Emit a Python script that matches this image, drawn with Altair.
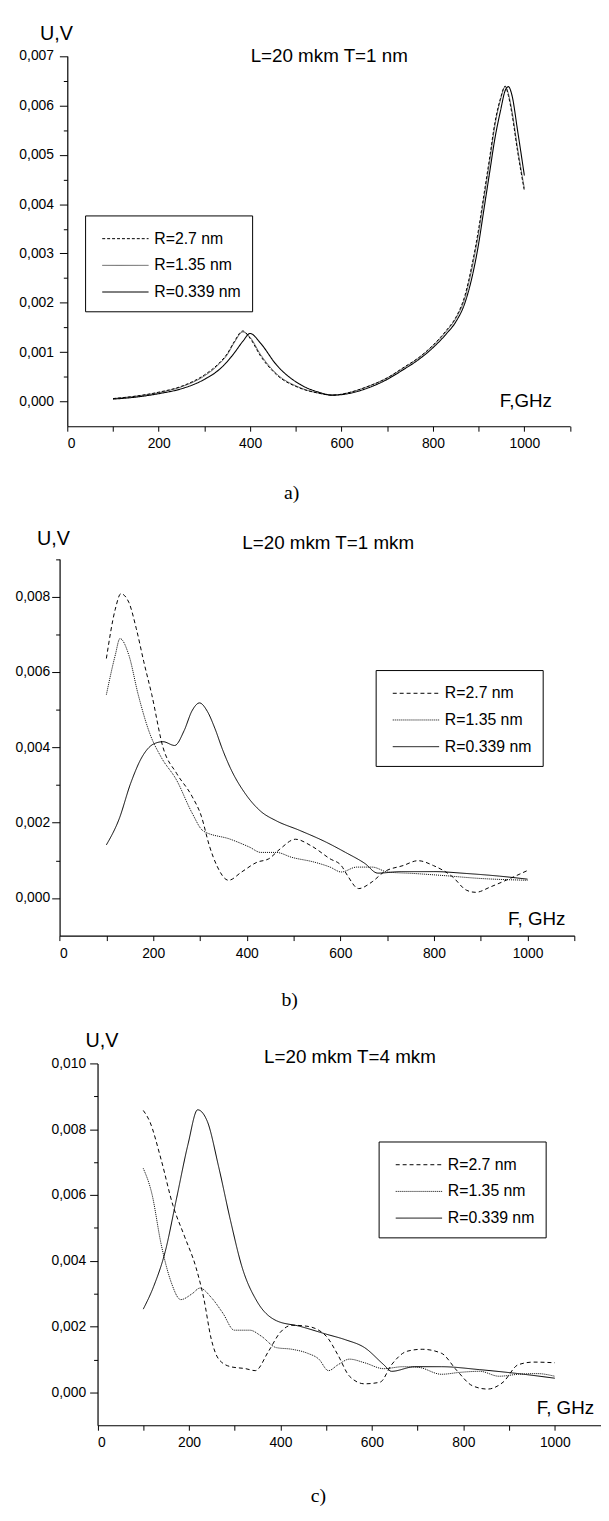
import altair as alt
import pandas as pd

LABELS = ["R=2.7 nm", "R=1.35 nm", "R=0.339 nm"]
FONT = "Liberation Sans"
SERIF = "Liberation Serif"

# ---------------- panel a (L=20 mkm T=1 nm), U in mV ----------------
A_F = [100, 150, 200, 250, 300, 330, 350, 365, 384, 400, 423, 457, 507, 550, 579,
       620, 650, 700, 734, 770, 801, 830, 851, 870, 885, 900, 910, 925, 935, 948,
       958, 965, 973, 985, 1000]
A_27 = [0.06, 0.11, 0.19, 0.31, 0.54, 0.76, 0.97, 1.21, 1.43, 1.28, 0.92, 0.55, 0.28, 0.17, 0.13,
        0.19, 0.28, 0.48, 0.68, 0.90, 1.15, 1.45, 1.72, 2.15, 2.75, 3.50, 4.10, 5.00, 5.62, 6.15,
        6.39, 6.20, 5.82, 5.08, 4.27]
A_135 = [0.06, 0.11, 0.18, 0.30, 0.52, 0.74, 0.95, 1.19, 1.41, 1.30, 0.95, 0.57, 0.29, 0.17, 0.13,
         0.19, 0.28, 0.48, 0.67, 0.89, 1.14, 1.43, 1.70, 2.10, 2.68, 3.42, 4.02, 4.92, 5.56, 6.12,
         6.38, 6.24, 5.88, 5.14, 4.32]
A_0339 = [0.05, 0.09, 0.16, 0.26, 0.45, 0.63, 0.81, 0.98, 1.22, 1.38, 1.18, 0.75, 0.36, 0.19, 0.13,
          0.17, 0.25, 0.45, 0.64, 0.86, 1.10, 1.38, 1.63, 2.00, 2.50, 3.20, 3.80, 4.70, 5.30, 5.90,
          6.30, 6.38, 6.20, 5.50, 4.58]

# ---------------- panel b (L=20 mkm T=1 mkm) ----------------
B27_F = [100, 119, 131, 148, 164, 180, 197, 221, 250, 283, 303, 320, 336, 361, 389,
         422, 447, 471, 504, 537, 578, 602, 615, 639, 668, 693, 734, 766, 799, 840,
         869, 889, 922, 963, 1000]
B27_U = [6.36, 7.67, 8.08, 7.85, 7.15, 6.27, 5.40, 4.00, 3.31, 2.70, 2.17, 1.39, 0.86, 0.47, 0.69,
         0.95, 1.04, 1.30, 1.56, 1.39, 1.04, 0.86, 0.60, 0.25, 0.43, 0.69, 0.86, 0.99, 0.86, 0.56,
         0.21, 0.15, 0.30, 0.52, 0.73]
B135_F = [100, 119, 129, 148, 168, 193, 217, 250, 283, 307, 365, 406, 430, 463, 496,
          545, 578, 602, 635, 668, 701, 758, 816, 897, 1000]
B135_U = [5.40, 6.45, 6.89, 6.45, 5.40, 4.36, 3.74, 3.13, 2.26, 1.78, 1.56, 1.35, 1.21, 1.21, 1.08,
          0.95, 0.82, 0.69, 0.82, 0.82, 0.69, 0.65, 0.60, 0.52, 0.47]
B0339_F = [100, 127, 152, 176, 201, 221, 246, 266, 283, 299, 316, 332, 348, 365, 398,
           430, 463, 512, 570, 611, 652, 680, 730, 800, 870, 940, 1000]
B0339_U = [1.41, 2.09, 3.05, 3.74, 4.09, 4.15, 4.05, 4.44, 4.97, 5.18, 4.95, 4.50, 3.95, 3.45, 2.75,
           2.30, 2.05, 1.80, 1.48, 1.21, 0.92, 0.66, 0.70, 0.70, 0.65, 0.58, 0.50]

# ---------------- panel c (L=20 mkm T=4 mkm) ----------------
C27_F = [100, 114, 139, 165, 190, 215, 232, 249, 265, 291, 324, 345, 374, 400, 425,
         458, 500, 526, 551, 584, 618, 643, 677, 710, 752, 786, 820, 853, 887, 920,
         954, 1000]
C27_U = [8.57, 8.24, 7.08, 5.68, 4.75, 3.81, 2.88, 1.60, 1.01, 0.78, 0.72, 0.66, 1.25, 1.83, 2.04,
         2.01, 1.71, 1.13, 0.49, 0.26, 0.31, 0.84, 1.25, 1.31, 1.19, 0.66, 0.20, 0.10, 0.31, 0.84,
         0.92, 0.90]
C135_F = [100, 119, 139, 161, 182, 207, 224, 249, 274, 299, 333, 358, 391, 425, 459,
          484, 505, 526, 551, 584, 626, 668, 702, 752, 794, 836, 878, 920, 962, 1000]
C135_U = [6.81, 6.03, 4.51, 3.35, 2.82, 3.00, 3.17, 2.88, 2.41, 1.89, 1.89, 1.71, 1.36, 1.31, 1.19,
          1.01, 0.66, 0.84, 1.01, 0.90, 0.72, 0.78, 0.76, 0.55, 0.61, 0.64, 0.49, 0.55, 0.57, 0.49]
C0339_F = [100, 123, 148, 173, 198, 219, 240, 265, 291, 316, 349, 391, 442, 500, 542,
           584, 626, 643, 694, 752, 836, 920, 1000]
C0339_U = [2.53, 3.23, 4.28, 5.91, 7.55, 8.59, 8.24, 6.85, 5.21, 3.81, 2.76, 2.18, 2.01, 1.77, 1.60,
           1.36, 0.84, 0.64, 0.78, 0.78, 0.69, 0.57, 0.43]

X_TICKS = [0, 100, 200, 300, 400, 500, 600, 700, 800, 900, 1000, 1100]
A_YTICKS = [0, 0.5, 1, 1.5, 2, 2.5, 3, 3.5, 4, 4.5, 5, 5.5, 6, 6.5, 7]
B_YTICKS = [0, 1, 2, 3, 4, 5, 6, 7, 8, 9]
C_YTICKS = [0, 1, 2, 3, 4, 5, 6, 7, 8, 9, 10]

W, H = 600, 1505


def frame(parts):
    rows = []
    for label, fs, us in parts:
        for f, u in zip(fs, us):
            rows.append({"F": f, "U": u, "R": label})
    return pd.DataFrame(rows)


def panel(df, xr, yr, ydom, yvals, majtest, ylabpad, dashes, widths, leg_x, leg_y):
    legend = alt.Legend(
        orient="none", legendX=leg_x, legendY=leg_y, title=None,
        strokeColor="black", fillColor="white", padding=11,
        symbolType="M-3,0H1", symbolSize=550, symbolStrokeColor="black",
        symbolOffset=29, labelOffset=5, rowPadding=6,
        labelFont=FONT, labelFontSize=16, labelColor="black", labelLimit=400,
    )
    x_axis = alt.Axis(
        orient="bottom", offset=yr[0] - H, values=X_TICKS, format="d",
        labelExpr="datum.value % 200 == 0 ? datum.label : ''",
        tickSize=5, labelPadding=6, title=None,
    )
    y_axis = alt.Axis(
        orient="left", offset=-xr[0], values=yvals,
        labelExpr=f"({majtest}) ? replace(format(datum.value / 1000, '.3f'), '.', ',') : ''",
        tickSize={"condition": {"test": majtest, "value": 8}, "value": 4},
        labelPadding=ylabpad, title=None,
    )
    return alt.Chart(df).mark_line(color="black", interpolate="monotone").encode(
        x=alt.X("F:Q", scale=alt.Scale(domain=[0, 1100], range=xr, nice=False, zero=False), axis=x_axis),
        y=alt.Y("U:Q", scale=alt.Scale(domain=ydom, range=yr, nice=False, zero=False), axis=y_axis),
        strokeDash=alt.StrokeDash("R:N", scale=alt.Scale(domain=LABELS, range=dashes), legend=legend),
        strokeWidth=alt.StrokeWidth("R:N", scale=alt.Scale(type="ordinal", domain=LABELS, range=widths),
                                    legend=legend),
    )


def label(t, x, y, size, font=FONT):
    return alt.Chart(pd.DataFrame({"t": [t]})).mark_text(
        font=font, fontSize=size, align="center", baseline="middle", color="black"
    ).encode(text="t:N", x=alt.value(x), y=alt.value(y))


df_a = frame([(LABELS[0], A_F, A_27), (LABELS[1], A_F, A_135), (LABELS[2], A_F, A_0339)])
df_b = frame([(LABELS[0], B27_F, B27_U), (LABELS[1], B135_F, B135_U), (LABELS[2], B0339_F, B0339_U)])
df_c = frame([(LABELS[0], C27_F, C27_U), (LABELS[1], C135_F, C135_U), (LABELS[2], C0339_F, C0339_U)])

pa = panel(df_a, [60, 568.7], [414.3, 39.7], [-0.5, 7], A_YTICKS, "datum.value % 1 == 0", 6,
           [[3, 2], [1, 0], [1, 0]], [1.0, 0.6, 1.1], 78, 201)
pb = panel(df_b, [52.2, 573], [929.7, 548.7], [-1, 9], B_YTICKS, "datum.value % 2 == 0", 2,
           [[4, 3], [1, 1], [1, 0]], [1.0, 1.0, 1.0], 372, 661)
pc = panel(df_c, [90.6, 599.5], [1425.1, 1059], [-1, 10], C_YTICKS, "datum.value % 2 == 0", 4,
           [[4, 3], [1, 1], [1, 0]], [1.0, 1.0, 1.0], 375, 1138)

texts = [
    label("U,V", 49, 17, 20), label("L=20 mkm T=1 nm", 325, 40, 19),
    label("F,GHz", 524, 389, 19), label("a)", 287, 482, 20, SERIF),
    label("U,V", 46, 528, 20), label("L=20 mkm T=1 mkm", 324, 532, 19),
    label("F, GHz", 535, 913, 19), label("b)", 285, 995, 20, SERIF),
    label("U,V", 95, 1036, 20), label("L=20 mkm T=4 mkm", 346, 1053, 19),
    label("F, GHz", 564, 1408, 19), label("c)", 314, 1497, 20, SERIF),
]

chart = alt.layer(pa, pb, pc, *texts).resolve_scale(
    x="independent", y="independent", strokeDash="independent", strokeWidth="independent"
).properties(
    width=W, height=H, padding=0, autosize=alt.AutoSizeParams(type="none")
).configure_view(stroke=None).configure_axis(
    labelFont=FONT, labelFontSize=14, labelColor="black", domainColor="black",
    tickColor="black", domainWidth=1.2, tickWidth=1, grid=False,
)

chart.save("out.html", embed_options={"renderer": "svg", "actions": False})
